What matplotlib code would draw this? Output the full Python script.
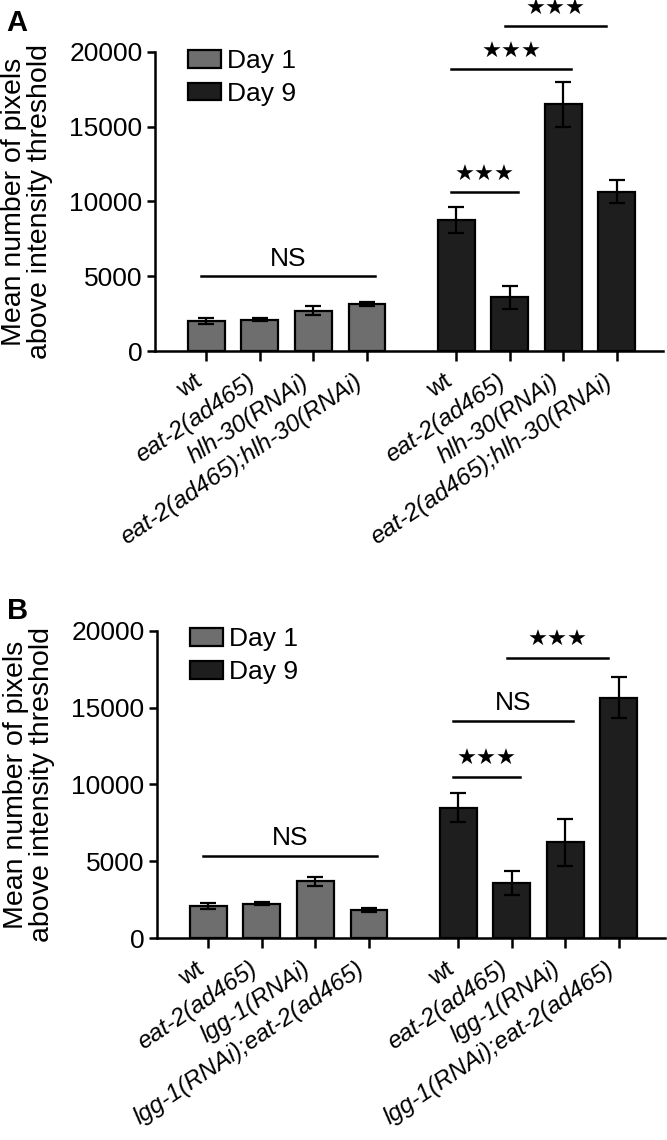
import matplotlib
matplotlib.use("Agg")
import matplotlib.pyplot as plt
import matplotlib.transforms as mtransforms
import numpy as np

plt.rcParams['font.family'] = ['Liberation Sans', 'DejaVu Sans']

# panel A data
labels_a = ["wt", "eat-2(ad465)", "hlh-30(RNAi)", "eat-2(ad465);hlh-30(RNAi)"]
day1_a = [2000, 2100, 2700, 3150]
day1_a_err = [220, 100, 280, 150]
day9_a = [8750, 3600, 16500, 10650]
day9_a_err = [880, 780, 1500, 780]

# panel B data
labels_b = ["wt", "eat-2(ad465)", "lgg-1(RNAi)", "lgg-1(RNAi);eat-2(ad465)"]
day1_b = [2100, 2250, 3700, 1850]
day1_b_err = [220, 100, 300, 120]
day9_b = [8500, 3600, 6250, 15650]
day9_b_err = [950, 780, 1520, 1330]

# significance brackets: (start index, end index, y, text, group)
sig_a = [(0, 3, 5000, "NS", "d1"), (0, 1, 10650, "★★★", "d9"),
         (0, 2, 18850, "★★★", "d9"), (1, 3, 21750, "★★★", "d9")]
sig_b = [(0, 3, 5350, "NS", "d1"), (0, 1, 10500, "★★★", "d9"),
         (0, 2, 14150, "NS", "d9"), (1, 3, 18250, "★★★", "d9")]

c_day1 = "#6e6e6e"
c_day9 = "#1e1e1e"

x1 = np.arange(4)
x9 = np.arange(4) + 4.67


def panel(fig, ax, d1, e1, d9, e9, labels, sigs):
    ek = dict(elinewidth=1.6, capthick=1.6, ecolor="black")
    ax.bar(x1, d1, width=0.69, color=c_day1, edgecolor="black", linewidth=1.6,
           yerr=e1, capsize=6, error_kw=ek, label="Day 1", zorder=2)
    ax.bar(x9, d9, width=0.69, color=c_day9, edgecolor="black", linewidth=1.6,
           yerr=e9, capsize=6, error_kw=ek, label="Day 9", zorder=2)
    ax.set_xlim(-0.96, 8.53)
    ax.set_ylim(0, 20000)
    ax.set_yticks([0, 5000, 10000, 15000, 20000])
    ax.spines["top"].set_visible(False)
    ax.spines["right"].set_visible(False)
    for s in ["left", "bottom"]:
        ax.spines[s].set_linewidth(1.8)
    ax.tick_params(axis="both", width=1.8, length=6, labelsize=19, pad=3)
    ax.tick_params(axis="x", length=7, labelsize=17.5, pad=5)
    ax.set_xticks(list(x1) + list(x9))
    lab = ax.set_xticklabels(labels + labels, rotation=34, ha="right",
                             va="center", rotation_mode="anchor")
    shift = mtransforms.ScaledTranslation(-0.07, -0.12, fig.dpi_scale_trans)
    for t in lab:
        t.set_transform(t.get_transform() + shift)
        if t.get_text() != "wt":
            t.set_style("italic")
    ax.set_ylabel("Mean number of pixels\nabove intensity threshold", fontsize=20.5,
                  linespacing=1.0)
    ax.yaxis.set_label_coords(-0.20, 0.5)
    for i, j, y, txt, grp in sigs:
        xs = x1 if grp == "d1" else x9
        a, b = xs[i] - 0.1, xs[j] + 0.15
        if grp == "d9" and j == 3:
            b = xs[j] - 0.2
        ax.plot([a, b], [y, y], color="black", lw=1.8, clip_on=False)
        if txt == "NS":
            ax.text((a + b) / 2, y + 1150, txt, ha="center", va="center",
                    fontsize=19, clip_on=False)
        else:
            ax.text((a + b) / 2, y + 1150, txt, ha="center", va="center",
                    fontsize=16, family="DejaVu Sans", clip_on=False)
    ax.legend(loc="upper left", bbox_to_anchor=(0.045, 1.045), frameon=False,
              fontsize=19, handlelength=1.25, handleheight=0.65, handletextpad=0.2,
              labelspacing=0.33, borderaxespad=0)


fig = plt.figure(figsize=(6.67, 11.4), dpi=100)
ax_a = fig.add_axes([0.2324, 0.6921, 0.7616, 0.2623])
ax_b = fig.add_axes([0.2354, 0.1769, 0.7616, 0.2699])
panel(fig, ax_a, day1_a, day1_a_err, day9_a, day9_a_err, labels_a, sig_a)
panel(fig, ax_b, day1_b, day1_b_err, day9_b, day9_b_err, labels_b, sig_b)
fig.text(0.009, 0.980, "A", fontsize=21, fontweight="bold", va="center", ha="left")
fig.text(0.010, 0.464, "B", fontsize=21, fontweight="bold", va="center", ha="left")

fig.savefig("out.png", dpi=100)
